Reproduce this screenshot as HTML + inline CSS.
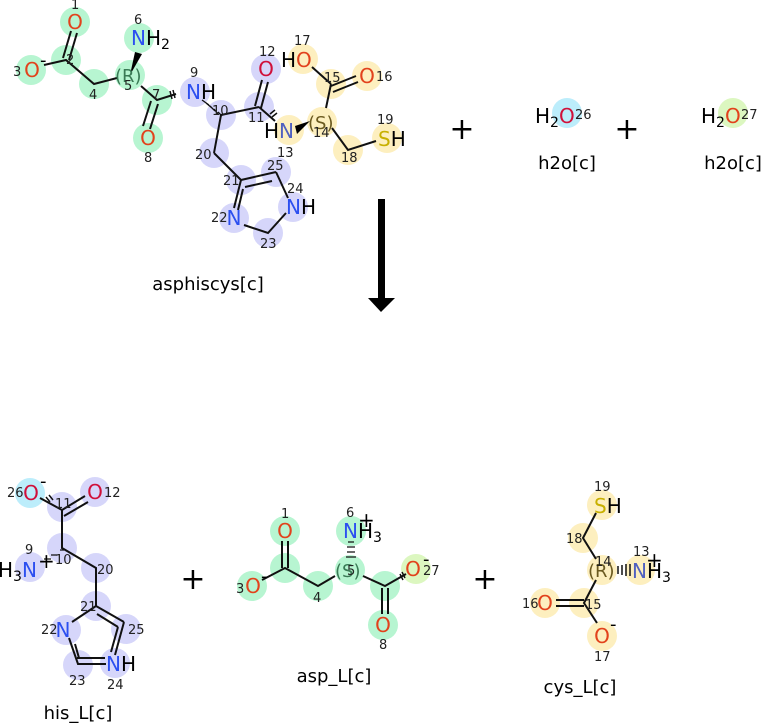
<!DOCTYPE html>
<html><head><meta charset="utf-8"><style>
html,body{margin:0;padding:0;background:#fff;width:762px;height:723px;overflow:hidden}
svg{display:block;font-family:"DejaVu Sans","Liberation Sans",sans-serif}
.g{fill:#b7f5d1}.p{fill:#d6d6fa}.y{fill:#fdefbf}.c{fill:#bcedfb}.l{fill:#dcf7c0}
.b{stroke:#111;stroke-width:2;fill:none}
.a{font-size:20px;text-anchor:middle}
.n{font-size:13px;fill:#222}
.O{fill:#e2421c}.O2{fill:#d0103a}.N{fill:#2c4ff0}.S{fill:#c8b000}
.lab{font-size:18px;text-anchor:middle;fill:#000}
.pl{font-size:30px;text-anchor:middle}
</style></head><body>
<svg width="762" height="723" viewBox="0 0 762 723">
<g>
<circle class="g" cx="75" cy="22" r="15"/><circle class="g" cx="66" cy="60" r="15"/><circle class="g" cx="31" cy="70" r="15"/>
<circle class="g" cx="94" cy="84" r="15"/><circle class="g" cx="130" cy="75" r="15"/><circle class="g" cx="139" cy="38" r="15"/>
<circle class="g" cx="157" cy="100" r="15"/><circle class="g" cx="148" cy="138" r="15"/>
<circle class="p" cx="195" cy="92" r="15"/><circle class="p" cx="221" cy="115" r="15"/><circle class="p" cx="259" cy="107" r="15"/>
<circle class="p" cx="266" cy="69" r="15"/><circle class="p" cx="214" cy="153" r="15"/><circle class="p" cx="241" cy="180" r="15"/>
<circle class="p" cx="234" cy="218" r="15"/><circle class="p" cx="268" cy="233" r="15"/><circle class="p" cx="293" cy="207" r="15"/><circle class="p" cx="276" cy="172" r="15"/>
<circle class="y" cx="289" cy="130" r="15"/><circle class="y" cx="322" cy="122" r="15"/><circle class="y" cx="331" cy="84" r="15"/>
<circle class="y" cx="367" cy="76" r="15"/><circle class="y" cx="303" cy="59" r="15"/><circle class="y" cx="348" cy="150" r="15"/><circle class="y" cx="387" cy="138" r="15"/>
<path class="b" d="M71 31 L63 58 M77 33 L69 60 M44 65 L66 60 L94 84 L117 78 M141 86 L157 100 L176 94 M151 101 L143 126 M158 104 L150 129 M221 115 L259 107 M255 106 L262 80 M261 108 L268 82 M259 107 L275 121 M214 153 L221 115 M214 153 L241 180 M241 180 L234 208 M243 189 L238 210 M241 180 L276 172 M245 187 L272 181 M276 172 L288 198 M244 225 L268 233 L286 213 M331 84 L326 108 M331 84 L312 67 M331 86 L356 76 M333 92 L358 82 M332 128 L348 150 L376 141"/>
<path d="M130 75 L135 52 L142 54 Z" fill="#000"/>
<path d="M310 121 L297 134 L295 126 Z" fill="#000"/>
<path d="M170 91 L172 99 M173 90 L175 98" stroke="#111" stroke-width="1.5"/>
<path d="M270 114 L275 110 M272 117 L277 113" stroke="#111" stroke-width="1.5"/>
<path d="M218 112 L222 116 M214 109 L218 114 M210 106 L215 111 M206 103 L212 108 M202 100 L209 105" stroke="#111" stroke-width="1.3"/>
<text class="a O" x="75" y="29">O</text><text class="n" x="71" y="9">1</text>
<text class="n" x="66" y="64">2</text>
<text class="a O" x="32" y="77">O</text><text class="n" x="13" y="76">3</text><text x="40" y="66" font-size="18">-</text>
<text class="n" x="89" y="99">4</text>
<text x="115" y="82" font-size="18" fill="#3a7a55">(R)</text><text class="n" x="124" y="90" fill="#3a7a55">5</text>
<text x="131" y="45" font-size="20"><tspan class="N">N</tspan>H<tspan font-size="14" dy="4">2</tspan></text><text class="n" x="134" y="24">6</text>
<text class="n" x="152" y="99">7</text>
<text class="a O" x="148" y="145">O</text><text class="n" x="144" y="162">8</text>
<text x="186" y="99" font-size="20"><tspan class="N">N</tspan>H</text><text class="n" x="190" y="77">9</text>
<text class="n" x="212" y="115">10</text>
<text class="n" x="248" y="122">11</text>
<text class="a O2" x="266" y="76">O</text><text class="n" x="259" y="56">12</text>
<text x="264" y="138" font-size="20">H<tspan class="N" style="fill:#5060c0">N</tspan></text><text class="n" x="277" y="157">13</text>
<text x="308" y="129" font-size="18" fill="#6b5a20">(S)</text><text class="n" x="313" y="137">14</text>
<text class="n" x="324" y="82">15</text>
<text class="a O" x="367" y="83">O</text><text class="n" x="376" y="81">16</text>
<text x="281" y="67" font-size="20">H<tspan class="O">O</tspan></text><text class="n" x="294" y="45">17</text>
<text class="n" x="341" y="162">18</text>
<text x="378" y="146" font-size="20"><tspan class="S">S</tspan>H</text><text class="n" x="377" y="124">19</text>
<text class="n" x="195" y="159">20</text><text class="n" x="223" y="185">21</text>
<text class="a N" x="234" y="225">N</text><text class="n" x="211" y="222">22</text>
<text class="n" x="260" y="248">23</text>
<text x="286" y="214" font-size="20"><tspan class="N">N</tspan>H</text><text class="n" x="287" y="193">24</text>
<text class="n" x="267" y="170">25</text>
<text class="lab" x="208" y="290">asphiscys[c]</text>
</g>
<text class="pl" x="462" y="139">+</text>
<circle class="c" cx="567" cy="113" r="15"/>
<text x="535" y="123" font-size="20">H<tspan font-size="14" dy="4">2</tspan><tspan dy="-4" class="O2">O</tspan></text><text class="n" x="575" y="119">26</text>
<text class="lab" x="567" y="169">h2o[c]</text>
<text class="pl" x="627" y="139">+</text>
<circle class="l" cx="733" cy="113" r="15"/>
<text x="701" y="123" font-size="20">H<tspan font-size="14" dy="4">2</tspan><tspan dy="-4" class="O">O</tspan></text><text class="n" x="741" y="119">27</text>
<text class="lab" x="733" y="169">h2o[c]</text>
<rect x="378" y="199" width="7" height="100" fill="#000"/>
<path d="M368 298 L395 298 L381 312 Z" fill="#000"/>
<!-- his_L -->
<circle class="c" cx="30" cy="493" r="15"/><circle class="p" cx="95" cy="492" r="15"/><circle class="p" cx="62" cy="507" r="15"/>
<circle class="p" cx="62" cy="548" r="15"/><circle class="p" cx="30" cy="567" r="15"/><circle class="p" cx="96" cy="568" r="15"/>
<circle class="p" cx="96" cy="606" r="15"/><circle class="p" cx="66" cy="630" r="15"/><circle class="p" cx="126" cy="629" r="15"/>
<circle class="p" cx="78" cy="665" r="15"/><circle class="p" cx="115" cy="663" r="15"/>
<path class="b" d="M40 498 L62 510 M62 510 L85 496 M64 516 L88 502 M62 510 L62 548 L96 568 L96 606 M96 606 L72 622 M96 606 L124 622 M97 614 L118 627 M124 622 L115 655 M118 627 L111 652 M69 638 L78 664 L106 664 M75 644 L79 658 M77 658 L105 658"/>
<path d="M46 497 L50 502 M49 495 L53 500" stroke="#111" stroke-width="1.5"/>
<path d="M60 550 L64 550 M51 555 L57 555 M44 559 L51 559" stroke="#111" stroke-width="1.3"/>
<text class="a O2" x="31" y="500">O</text><text class="n" x="7" y="497">26</text><text x="40" y="487" font-size="18">-</text>
<text class="a O2" x="95" y="499">O</text><text class="n" x="104" y="497">12</text>
<text class="n" x="55" y="508">11</text>
<text class="n" x="55" y="564">10</text>
<text x="-2" y="577" font-size="20">H<tspan font-size="14" dy="4">3</tspan><tspan dy="-4" class="N">N</tspan></text><text x="38" y="568" font-size="20">+</text><text class="n" x="25" y="554">9</text>
<text class="n" x="97" y="574">20</text><text class="n" x="80" y="611">21</text>
<text class="a N" x="63" y="637">N</text><text class="n" x="41" y="634">22</text>
<text class="n" x="128" y="634">25</text>
<text class="n" x="69" y="685">23</text>
<text x="106" y="671" font-size="20"><tspan class="N">N</tspan>H</text><text class="n" x="107" y="689">24</text>
<text class="lab" x="78" y="719">his_L[c]</text>
<text class="pl" x="193" y="589">+</text>
<!-- asp_L -->
<circle class="g" cx="285" cy="531" r="15"/><circle class="g" cx="285" cy="568" r="15"/><circle class="g" cx="252" cy="586" r="15"/>
<circle class="g" cx="318" cy="586" r="15"/><circle class="g" cx="350" cy="570" r="15"/><circle class="g" cx="351" cy="531" r="15"/>
<circle class="g" cx="385" cy="586" r="15"/><circle class="g" cx="383" cy="625" r="15"/><circle class="l" cx="416" cy="569" r="15"/>
<path class="b" d="M282 541 L282 568 M288 541 L288 568 M262 580 L285 568 L318 586 L335 576 M363 576 L385 586 L406 574 M382 588 L382 614 M388 588 L388 614"/>
<path d="M400 574 L403 580 M402 572 L405 578" stroke="#111" stroke-width="1.5"/>
<path d="M348 542 L354 542 M347 547 L355 547 M347 552 L355 552 M346 557 L356 557" stroke="#111" stroke-width="1.3"/>
<text class="a O" x="285" y="538">O</text><text class="n" x="281" y="518">1</text>
<text class="a O" x="253" y="593">O</text><text class="n" x="236" y="593">3</text><text x="261" y="582" font-size="18">-</text>
<text class="n" x="313" y="602">4</text>
<text x="335" y="577" font-size="18" fill="#3a7a55">(S)</text><text class="n" x="347" y="575" fill="#3a7a55">5</text>
<text x="343" y="538" font-size="20"><tspan class="N">N</tspan>H<tspan font-size="14" dy="4">3</tspan></text><text x="358" y="527" font-size="20">+</text><text class="n" x="346" y="517">6</text>
<text class="a O" x="383" y="632">O</text><text class="n" x="379" y="649">8</text>
<text class="a O" x="413" y="576">O</text><text x="423" y="565" font-size="18">-</text><text class="n" x="423" y="575">27</text>
<text class="lab" x="334" y="682">asp_L[c]</text>
<text class="pl" x="485" y="589">+</text>
<!-- cys_L -->
<circle class="y" cx="602" cy="505" r="15"/><circle class="y" cx="583" cy="538" r="15"/><circle class="y" cx="602" cy="570" r="15"/>
<circle class="y" cx="640" cy="570" r="15"/><circle class="y" cx="584" cy="603" r="15"/><circle class="y" cx="545" cy="603" r="15"/><circle class="y" cx="602" cy="636" r="15"/>
<path class="b" d="M596 513 L583 538 L596 559 M596 580 L584 603 L597 623 M556 600 L584 600 M556 606 L584 606"/>
<path d="M618 566 L618 574 M622 565 L622 575 M626 564 L626 576 M630 564 L630 576" stroke="#111" stroke-width="1.5"/>
<text x="594" y="513" font-size="20"><tspan class="S">S</tspan>H</text><text class="n" x="594" y="491">19</text>
<text class="n" x="566" y="543">18</text>
<text x="588" y="577" font-size="18" fill="#6b5a20">(R)</text><text class="n" x="595" y="566">14</text>
<text x="632" y="578" font-size="20"><tspan class="N" style="fill:#5060c0">N</tspan>H<tspan font-size="14" dy="4">3</tspan></text><text x="646" y="567" font-size="20">+</text><text class="n" x="633" y="556">13</text>
<text class="n" x="585" y="609">15</text>
<text class="a O" x="545" y="610">O</text><text class="n" x="522" y="608">16</text>
<text class="a O" x="602" y="643">O</text><text x="610" y="630" font-size="18">-</text><text class="n" x="594" y="661">17</text>
<text class="lab" x="580" y="693">cys_L[c]</text>
</svg>
</body></html>
